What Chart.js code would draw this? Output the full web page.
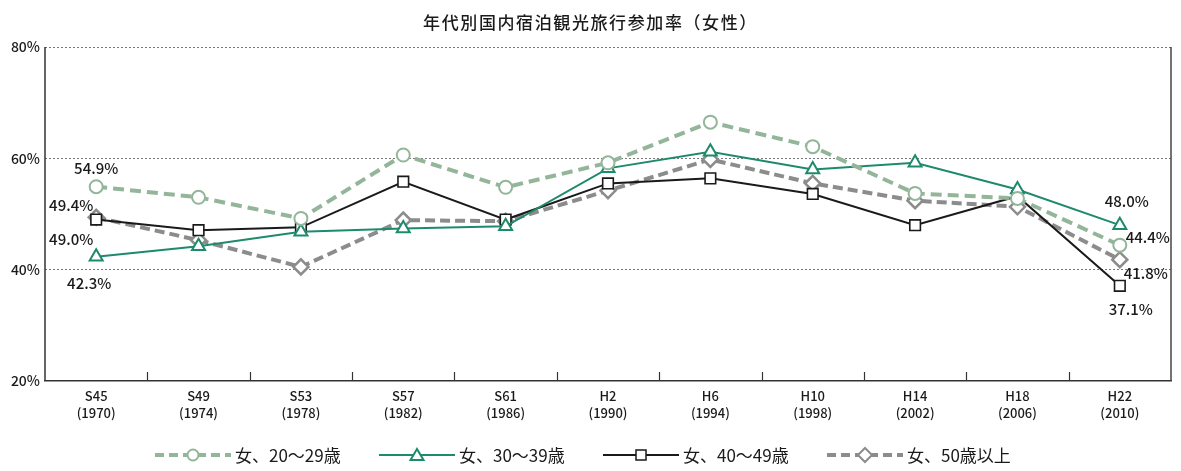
<!DOCTYPE html>
<html>
<head>
<meta charset="utf-8">
<script src="https://cdn.jsdelivr.net/npm/chart.js@4/dist/chart.umd.min.js"></script>
<style>
html,body{margin:0;padding:0;background:#fff;}
#wrap{position:relative;width:1181px;height:471px;overflow:hidden;}
#c{position:absolute;left:0;top:0;}
#title{position:absolute;left:0;width:1181px;top:10px;text-align:center;font:500 17px "Noto Sans CJK JP";letter-spacing:1.6px;color:#1a1a1a;line-height:24px;}
#legend{position:absolute;left:155px;top:443px;display:flex;}
.item{display:flex;align-items:center;width:224px;}
.item span{font:17px "Noto Sans CJK JP";color:#1a1a1a;margin-left:4px;white-space:nowrap;line-height:24px;}
</style>
</head>
<body>
<div id="wrap">
  <canvas id="c" width="1181" height="471"></canvas>
  <div id="title">年代別国内宿泊観光旅行参加率（女性）</div>
  <div id="legend"></div>
</div>
<script>
// ---- data ----
const eraLabels = ['S45','S49','S53','S57','S61','H2','H6','H10','H14','H18','H22'];
const yearLabels = ['(1970)','(1974)','(1978)','(1982)','(1986)','(1990)','(1994)','(1998)','(2002)','(2006)','(2010)'];
const seriesNames = ['女、20～29歳','女、30～39歳','女、40～49歳','女、50歳以上'];
const f20s = [54.9, 53.0, 49.2, 60.6, 54.8, 59.2, 66.5, 62.1, 53.7, 52.8, 44.4];
const f30s = [42.3, 44.2, 46.8, 47.4, 47.8, 58.2, 61.2, 58.0, 59.2, 54.4, 48.0];
const f40s = [49.0, 47.1, 47.6, 55.8, 49.0, 55.5, 56.4, 53.6, 48.0, 53.2, 37.1];
const f50s = [49.4, 45.3, 40.5, 48.9, 48.7, 54.2, 59.8, 55.5, 52.4, 51.3, 41.8];
const yTicks = [20, 40, 60, 80];

// ---- styles ----
const C20 = '#93b59a', C30 = '#1e8a6c', C40 = '#1a1a1a', C50 = '#8c8c8c';
const styles = [
  {color:C20, width:4, dash:[11,6], point:'circle', r:6.5, pw:2},
  {color:C30, width:2, dash:[], point:'triangle', r:7.5, pw:2},
  {color:C40, width:2, dash:[], point:'rect', r:7.5, pw:1.6},
  {color:C50, width:4, dash:[10,5], point:'rectRot', r:7.5, pw:2.5}
];
const seriesData = [f20s, f30s, f40s, f50s];

const datasets = seriesData.map((d,i)=>({
  label: seriesNames[i],
  data: d,
  borderColor: styles[i].color,
  borderWidth: styles[i].width,
  borderDash: styles[i].dash,
  pointStyle: styles[i].point,
  pointRadius: styles[i].r,
  pointBorderWidth: styles[i].pw,
  pointBackgroundColor: '#fff',
  pointBorderColor: styles[i].color,
  tension: 0,
  fill: false
}));

// end-point value labels: [dataset, index, dx, dy]
const valueLabels = [
  [0, 0, 0, -18], [3, 0, -25, -12], [2, 0, -25, 20], [1, 0, -7, 26],
  [1, 10, 7, -24], [0, 10, 28, -8], [3, 10, 26, 14], [2, 10, 11, 23]
];

const decor = {
  id:'decor',
  afterDatasetsDraw(chart){
    const ctx = chart.ctx, a = chart.chartArea, xs = chart.scales.x, ys = chart.scales.y;
    ctx.save();
    // right border
    ctx.strokeStyle = '#444'; ctx.lineWidth = 1.5;
    ctx.beginPath(); ctx.moveTo(a.right, a.top); ctx.lineTo(a.right, a.bottom); ctx.stroke();
    // y axis line (solid)
    ctx.strokeStyle = '#333'; ctx.lineWidth = 1.5;
    ctx.beginPath(); ctx.moveTo(a.left, a.top); ctx.lineTo(a.left, a.bottom); ctx.stroke();
    // inward tick marks between categories
    ctx.strokeStyle = '#333'; ctx.lineWidth = 1.2;
    for (let i = 0; i < eraLabels.length - 1; i++) {
      const x = Math.round((xs.getPixelForValue(i) + xs.getPixelForValue(i+1)) / 2) + 0.5;
      ctx.beginPath(); ctx.moveTo(x, a.bottom); ctx.lineTo(x, a.bottom - 9); ctx.stroke();
    }
    // value labels
    ctx.fillStyle = '#1a1a1a';
    ctx.font = '500 15px "Noto Sans CJK JP"';
    ctx.textAlign = 'center'; ctx.textBaseline = 'middle';
    valueLabels.forEach(([ds, idx, dx, dy]) => {
      const v = seriesData[ds][idx];
      const x = xs.getPixelForValue(idx) + dx;
      const y = ys.getPixelForValue(v) + dy;
      ctx.fillText(v.toFixed(1) + '%', x, y);
    });
    ctx.restore();
  }
};

new Chart(document.getElementById('c'), {
  type:'line',
  data:{ labels: eraLabels.map((e,i)=>[e, yearLabels[i]]), datasets },
  options:{
    responsive:false,
    animation:false,
    devicePixelRatio:1,
    layout:{ padding:{ top:47, right:3, left:0, bottom:0 } },
    plugins:{ legend:{display:false}, title:{display:false}, tooltip:{enabled:false} },
    scales:{
      x:{
        offset:true,
        grid:{ display:false, drawTicks:false },
        border:{ display:true, color:'#333', width:1.5 },
        ticks:{ color:'#1a1a1a', font:{ family:'"Noto Sans CJK JP"', size:13, weight:'500', lineHeight:1.3 }, padding:7, maxRotation:0, autoSkip:false },
        afterFit(s){ s.height = 90; }
      },
      y:{
        min:20, max:80,
        afterBuildTicks(s){ s.ticks = yTicks.map(v=>({value:v})); },
        grid:{ drawTicks:false, color:(c)=> c.tick && c.tick.value === 20 ? 'rgba(0,0,0,0)' : '#777', lineWidth:1 },
        border:{ display:false, dash:[2,2] },
        ticks:{ color:'#1a1a1a', font:{ family:'"Noto Sans CJK JP"', size:14, weight:'500' }, padding:5, callback:(v)=> v + '%' },
        afterFit(s){ s.width = 45; }
      }
    }
  },
  plugins:[decor]
});

// ---- HTML legend ----
const lg = document.getElementById('legend');
seriesNames.forEach((name,i)=>{
  const s = styles[i];
  const item = document.createElement('div'); item.className='item';
  const ns='http://www.w3.org/2000/svg';
  const svg = document.createElementNS(ns,'svg');
  svg.setAttribute('width','76'); svg.setAttribute('height','20');
  const line = document.createElementNS(ns,'line');
  line.setAttribute('x1','0'); line.setAttribute('x2','76'); line.setAttribute('y1','10'); line.setAttribute('y2','10');
  line.setAttribute('stroke', s.color); line.setAttribute('stroke-width', s.width===4? '4':'2');
  if (s.dash.length) line.setAttribute('stroke-dasharray', '9 5');
  svg.appendChild(line);
  let m;
  const cx=38, cy=10;
  if (s.point==='circle'){ m=document.createElementNS(ns,'circle'); m.setAttribute('cx',cx); m.setAttribute('cy',cy); m.setAttribute('r','5.5'); }
  else if (s.point==='triangle'){ m=document.createElementNS(ns,'polygon'); m.setAttribute('points',`${cx},${cy-6} ${cx-6.5},${cy+5} ${cx+6.5},${cy+5}`); }
  else if (s.point==='rect'){ m=document.createElementNS(ns,'rect'); m.setAttribute('x',cx-5); m.setAttribute('y',cy-5); m.setAttribute('width','10'); m.setAttribute('height','10'); }
  else { m=document.createElementNS(ns,'polygon'); m.setAttribute('points',`${cx},${cy-7} ${cx+7},${cy} ${cx},${cy+7} ${cx-7},${cy}`); }
  m.setAttribute('fill','#fff'); m.setAttribute('stroke', s.color); m.setAttribute('stroke-width', s.point==='rect'?'1.5':'2');
  svg.appendChild(m);
  const t = document.createElement('span'); t.textContent = name;
  item.appendChild(svg); item.appendChild(t);
  lg.appendChild(item);
});
</script>
</body>
</html>
